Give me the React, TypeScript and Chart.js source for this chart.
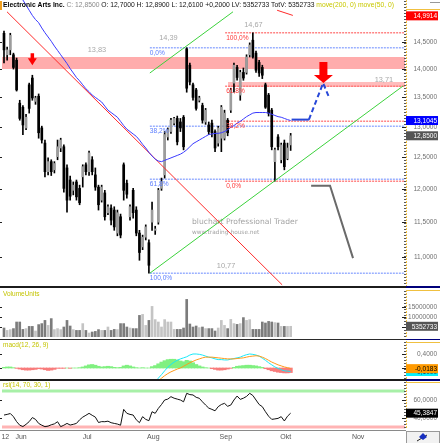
import { useEffect, useRef } from 'react';
import { Chart, registerables } from 'chart.js';

Chart.register(...registerables);

const FONT = '"Liberation Sans", Arial, sans-serif';
const X_MIN = -0.635;
const X_MAX = 127.3;

// ---- daily candles, index 0 = first visible trading day ----
const openP = [14.66,14.26,14.35,14.26,14.16,13.40,13.33,12.98,13.72,13.84, 13.43,13.52,12.98,12.73,12.27,12.43,12.30,12.51,12.65,12.67, 12.33,12.14,11.98,12.11,12.01,12.19,12.38,12.27,12.46,12.22, 12.03,11.83,11.94,11.64,11.71,11.68,11.34,11.58,12.38,12.09, 11.58,11.98,11.68,11.34,11.14,11.28,11.20,11.50,11.38,11.50, 12.01,12.22,12.83,12.92,13.06,13.14,13.08,13.16,14.37,14.07, 13.72,13.63,13.45,13.36,13.08,13.03,13.06,12.92,12.73,12.81, 12.81,13.11,13.28,13.75,14.03,13.54,13.94,13.94,14.26,14.53, 14.29,14.12,14.03,13.72,13.54,13.28,12.43,12.83,12.46,12.73, 12.48,12.70];
const highP = [14.70,14.40,14.66,14.29,14.20,13.45,13.36,13.21,13.75,13.89, 13.52,13.56,13.01,12.78,12.49,12.46,12.43,12.78,12.81,12.70, 12.38,12.20,12.11,12.14,12.06,12.38,12.41,12.60,12.51,12.33, 12.06,12.06,11.98,11.76,11.76,11.73,11.68,11.62,12.41,12.14, 11.76,12.01,11.73,11.38,11.31,11.46,11.24,11.80,11.44,12.01, 12.17,12.92,12.98,13.14,13.16,13.18,13.14,13.19,14.39,14.11, 13.75,13.66,13.52,13.40,13.31,13.08,13.11,12.95,13.01,13.36, 13.28,13.14,13.66,14.11,14.07,13.98,14.02,14.26,14.48,14.67, 14.33,14.16,14.07,13.75,13.57,13.31,12.65,12.87,12.73,12.78, 12.73,12.89];
const lowP = [14.11,14.16,14.26,14.00,13.61,13.11,12.87,12.95,13.23,13.45, 13.38,12.81,12.73,12.19,12.22,12.21,12.25,12.46,12.59,11.95, 11.65,11.83,11.91,11.83,11.76,12.03,12.22,12.21,12.22,11.98, 11.68,11.80,11.53,11.61,11.46,11.38,11.30,11.27,11.83,11.86, 11.53,11.56,11.30,10.95,11.10,11.24,10.77,11.38,11.32,11.47, 11.98,12.17,12.78,12.89,13.03,12.70,12.92,12.62,13.59,13.72, 13.45,13.28,13.42,13.06,13.04,12.87,12.83,12.59,12.68,12.59, 12.78,12.85,13.24,13.59,13.80,13.45,13.80,13.91,14.22,14.20, 13.94,13.87,13.83,13.31,13.18,12.62,12.12,12.62,12.41,12.30, 12.46,12.61];
const closeP = [14.35,14.35,14.62,14.03,13.63,13.14,13.03,13.16,13.31,13.49, 13.49,12.90,12.78,12.27,12.43,12.27,12.40,12.67,12.78,12.01, 11.83,11.89,12.06,11.88,11.79,12.35,12.27,12.57,12.27,12.03, 11.76,12.03,11.58,11.73,11.53,11.43,11.64,11.31,11.98,11.92, 11.73,11.64,11.34,11.06,11.28,11.43,10.88,11.68,11.40,11.98, 12.11,12.87,12.95,13.11,13.14,12.75,12.98,12.67,13.66,13.77, 13.50,13.31,13.49,13.11,13.28,12.92,12.90,12.65,12.98,13.33, 13.23,12.90,13.63,14.07,13.85,13.94,13.84,14.22,14.44,14.22, 13.98,13.93,13.89,13.33,13.23,12.67,12.62,12.67,12.70,12.35, 12.65,12.85];
const volume = [4500000,3300000,3700000,4200000,7500000,7500000,3800000,4200000,5300000,5300000, 3000000,6200000,6700000,8300000,5800000,9200000,3700000,4200000,3700000,5000000, 8300000,5500000,3700000,3300000,3300000,6700000,3300000,2000000,2500000,2800000, 3700000,3300000,3300000,5000000,3300000,3800000,3700000,6700000,6700000,5000000, 4500000,4200000,4200000,10800000,11300000,5800000,8300000,15300000,8700000,7500000, 5000000,8700000,7500000,7500000,3800000,3800000,3800000,4500000,18800000,6500000, 5000000,5500000,4700000,5000000,4200000,4200000,4200000,3000000,4500000,8300000, 5800000,4200000,8800000,6700000,6300000,6700000,9700000,8300000,8700000,3800000, 3800000,3800000,7500000,7000000,7800000,7500000,7200000,7000000,5300000,5300000, 5300000,5352733];
const ma50 = [null,null,null,null,null,null,15.30,15.20,15.10,15.00, 14.92,14.86,14.76,14.67,14.59,14.51,14.42,14.34,14.26,14.18, 14.10,14.01,13.93,13.85,13.79,13.72,13.65,13.60,13.54,13.50, 13.46,13.42,13.35,13.28,13.24,13.20,13.16,13.09,13.02,12.96, 12.92,12.88,12.84,12.78,12.71,12.65,12.58,12.52,12.47,12.44, 12.43,12.45,12.47,12.49,12.51,12.53,12.55,12.58,12.62,12.67, 12.72,12.75,12.78,12.81,12.84,12.87,12.88,12.89,12.89,12.90, 12.92,12.95,12.99,13.02,13.06,13.09,13.13,13.17,13.20,13.23, 13.24,13.24,13.24,13.24,13.23,13.21,13.19,13.17,13.16,13.14, 13.12,13.1045];
const ma200Last = 14.9914;
const macdHist = [0.02,0.03,0.03,0.01, -0.01,-0.03,-0.05,-0.06,-0.06,-0.05,-0.04,-0.02, -0.03,-0.05,-0.07,-0.06,-0.04,-0.01, -0.01,-0.01,0,-0.01, 0,0,0.01, 0.03,0.06,0.09,0.10,0.08,0.05, 0.03,0.04,0.05,0.04,0.02, 0.01,0.02, 0.06,0.08,0.06,0.03, 0.01,0,0.01,0,0, 0.04,0.07,0.12,0.17,0.21,0.24,0.25,0.25,0.23,0.20,0.18,0.22,0.20,0.15,0.10,0.06, 0.03,0.01,0, -0.02,-0.04,-0.06,-0.06,-0.05,-0.03,-0.01, 0.02,0.05,0.06,0.07,0.08,0.08,0.07,0.06,0.04,0.02, -0.02,-0.05,-0.08,-0.10,-0.12,-0.13,-0.14,-0.14,-0.13];
const MACD_START = 47;
const macdLine = [-0.50,-0.40,-0.29,-0.19,-0.08,0.02,0.10,0.17,0.22,0.26, 0.29,0.32,0.37,0.40,0.40,0.39,0.37,0.34,0.31,0.29, 0.26,0.24,0.24,0.23,0.23,0.25,0.27,0.29,0.31,0.35, 0.38,0.40,0.39,0.37,0.34,0.28,0.22,0.15,0.09,0.03, -0.01,-0.05,-0.08,-0.09,-0.10];
const macdSignal = [-0.55,-0.45,-0.37,-0.29,-0.22,-0.16,-0.11,-0.07,-0.03,0.00, 0.05,0.10,0.15,0.19,0.23,0.26,0.29,0.31,0.31,0.31, 0.30,0.29,0.28,0.27,0.26,0.26,0.26,0.27,0.28,0.29, 0.31,0.33,0.34,0.35,0.34,0.31,0.27,0.22,0.17,0.13, 0.09,0.06,0.03,0.01,-0.0183];
const rsi = [43.3,44,45,41.5,36,32,30.5,33,36,40.5, 38.5,34,32,30.4,31,32.5,33.5,35.9,30.4,32, 34,32.2,33,34,38,41,43,45.2,43,41, 35,36,35.9,36.5,34.8,34,33.3,32,49.6,45.2, 44,43.3,38,34.8,41.5,38.5,37,47,45.2,50.7, 55,60,61,63.7,62,61,60,58,67.4,66, 65.6,63,61.9,58,54.4,51,49.6,48,52.6,55, 56.3,53,54.4,60,64.4,60.7,62,64,67.4,65, 60,55,52.6,47,42,38.5,39,39.6,41.5,36.7, 42,45.3847];

// ---- drawings on the price panel (index, price) ----
const bandHigh = [14.22, 14.00];
const bandSmall = { from: 71.1, top: 13.77, bottom: 13.68 };
const fibBlueStart = 46.3;
const fibBlueLevels = [14.39, 13.007, 12.153, 10.77];
const fibBlueNames = ['0,0%', '38,2%', '61,8%', '100,0%'];
const fibRedStart = 70.2;
const fibRedLevels = [14.67, 13.696, 13.094, 12.12];
const fibRedNames = ['100,0%', '61,8%', '38,2%', '0,0%'];
const trendRedX = [0.95, 88.3];
const trendRedY = [15.07, 10.61];
const trendRed2X = [86.7, 91.7];
const trendRed2Y = [15.10, 15.0];
const channelUpX = [46.3, 72.7];
const channelUpY = [13.93, 15.07];
const channelLowX = [46.3, 126.7];
const channelLowY = [10.77, 13.70];
const projBlueX = [91.3, 96.8];
const projBlueY = [13.12, 13.12];
const projBlueDashX = [96.8, 101.3, 103.2];
const projBlueDashY = [13.12, 13.75, 13.50];
const projGrayX = [97.5, 103.5, 110.8];
const projGrayY = [12.05, 12.05, 10.98];
const arrowX = [9, 101.4];
const arrowY = [14.07, 13.75];
const priceNotes = [
  { x: 29.5, y: 14.34, t: '13,83' },
  { x: 52.2, y: 14.57, t: '14,39' },
  { x: 79.2, y: 14.81, t: '14,67' },
  { x: 120.6, y: 13.80, t: '13,71' },
  { x: 70.5, y: 10.87, t: '10,77' },
];
const priceTicks = [11, 11.5, 12, 12.5, 13, 13.5, 14, 14.5];
const volTicks = [5000000, 10000000, 15000000];
const macdTicks = [0, 0.4];
const rsiTicks = [40, 60];
const rsiLevels = [70, 30];
const monthStarts = [0, 5, 26, 47, 70, 89, 112];
const monthNames = ['12', 'Jun', 'Jul', 'Aug', 'Sep', 'Okt', 'Nov'];
const stockName = 'Electronic Arts Inc.';

const N = closeP.length;
const idx = Array.from({ length: N }, (_, i) => i);
const up = (i: number) => closeP[i] >= openP[i];
const fmt4 = (v: number) => v.toFixed(4).replace('.', ',');
const fmtInt = (v: number) => String(Math.round(v));

const seg = (xs: number[], ys: number[], color: string, width = 1, dash: number[] = [], order = 10) => ({
  type: 'line',
  data: xs.map((x, k) => ({ x, y: ys[k] })),
  borderColor: color,
  borderWidth: width,
  borderDash: dash,
  pointRadius: 0,
  fill: false,
  tension: 0,
  order,
});

const baseOptions = (y: any, padding: any) => ({
  animation: false,
  responsive: false,
  maintainAspectRatio: false,
  events: [],
  layout: { padding },
  plugins: { legend: { display: false }, tooltip: { enabled: false } },
  scales: {
    x: { type: 'linear', min: X_MIN, max: X_MAX, display: false, offset: false, bounds: 'data' },
    y: { display: false, bounds: 'data', ...y },
  },
});

type Badge = { v: number; text: string; bg: string; fg: string };

const axisPlugin = (ticks: number[], fmt: (v: number) => string, badges: Badge[], label: string) => ({
  id: 'axisDecor',
  afterDraw(chart: any) {
    const { ctx, chartArea: a, scales } = chart;
    const ys = scales.y;
    const W = chart.width;
    ctx.save();
    ctx.fillStyle = '#555';
    for (let yy = Math.ceil(a.top) + 1; yy < a.bottom; yy += 3) ctx.fillRect(a.right - 1, yy, 2, 1);
    ctx.strokeStyle = '#f0c040';
    ctx.lineWidth = 1;
    ctx.setLineDash([2, 1]);
    ctx.beginPath();
    ctx.moveTo(a.right + 1.5, a.top);
    ctx.lineTo(a.right + 1.5, a.bottom);
    ctx.stroke();
    ctx.setLineDash([]);
    ctx.font = `6.5px ${FONT}`;
    ctx.textAlign = 'right';
    ctx.textBaseline = 'middle';
    ticks.forEach((v) => {
      const py = Math.round(ys.getPixelForValue(v));
      ctx.fillStyle = '#222';
      ctx.fillRect(a.right - 3, py, 4, 1);
      ctx.fillRect(0, py, 2, 1);
      ctx.fillStyle = '#707070';
      ctx.fillText(fmt(v), W - 3, py + 0.5);
    });
    badges.forEach((b) => {
      const py = ys.getPixelForValue(b.v);
      ctx.fillStyle = b.bg;
      ctx.fillRect(a.right + 1, py - 4.5, 32, 9);
      ctx.fillStyle = b.fg;
      ctx.fillText(b.text, W - 3, py + 0.5);
    });
    if (label) {
      ctx.textAlign = 'left';
      ctx.fillStyle = '#c4c400';
      ctx.font = `6.5px ${FONT}`;
      ctx.fillText(label, 3, a.top + 4);
    }
    ctx.restore();
  },
});

function drawArrow(ctx: any, px: number, py: number, hw: number, hh: number, sw: number, sh: number) {
  ctx.beginPath();
  ctx.moveTo(px, py);
  ctx.lineTo(px - hw / 2, py - hh);
  ctx.lineTo(px - sw / 2, py - hh);
  ctx.lineTo(px - sw / 2, py - hh - sh);
  ctx.lineTo(px + sw / 2, py - hh - sh);
  ctx.lineTo(px + sw / 2, py - hh);
  ctx.lineTo(px + hw / 2, py - hh);
  ctx.closePath();
  ctx.fill();
}

const mainText = {
  id: 'mainText',
  beforeDatasetsDraw(chart: any) {
    const { ctx } = chart;
    ctx.save();
    ctx.fillStyle = '#a4a4a4';
    ctx.textBaseline = 'middle';
    ctx.textAlign = 'left';
    ctx.font = '7.6px "DejaVu Sans", sans-serif';
    ctx.fillText('bluchart Professional Trader', 192, 222);
    ctx.font = '5.8px "DejaVu Sans", sans-serif';
    ctx.fillText('www.trading-house.net', 192, 232);
    ctx.restore();
  },
  afterDatasetsDraw(chart: any) {
    const { ctx, scales } = chart;
    const xs = scales.x;
    const ys = scales.y;
    ctx.save();
    ctx.textBaseline = 'middle';
    ctx.font = `7.4px ${FONT}`;
    ctx.textAlign = 'center';
    ctx.fillStyle = '#a8a8a8';
    priceNotes.forEach((n) => ctx.fillText(n.t, xs.getPixelForValue(n.x), ys.getPixelForValue(n.y)));
    ctx.textAlign = 'left';
    ctx.font = `6.6px ${FONT}`;
    ctx.fillStyle = '#5a7cff';
    fibBlueLevels.forEach((v, k) => ctx.fillText(fibBlueNames[k], xs.getPixelForValue(fibBlueStart), ys.getPixelForValue(v) + 5));
    ctx.fillStyle = '#ff3838';
    fibRedLevels.forEach((v, k) => ctx.fillText(fibRedNames[k], xs.getPixelForValue(fibRedStart) + 1, ys.getPixelForValue(v) + 5));
    ctx.fillStyle = '#ff0000';
    drawArrow(ctx, xs.getPixelForValue(arrowX[0]), ys.getPixelForValue(arrowY[0]), 9, 7, 3.5, 5);
    drawArrow(ctx, xs.getPixelForValue(arrowX[1]), ys.getPixelForValue(arrowY[1]), 19, 8, 8, 13);
    // title line
    const o = openP[N - 1], h = highP[N - 1], l = lowP[N - 1], c = closeP[N - 1];
    const ch = c - closeP[N - 2];
    const parts: [string, string, string][] = [
      [stockName, '#000', 'bold'],
      [` C: ${fmt4(c)}`, '#8a8a8a', 'normal'],
      [` O: ${fmt4(o)} H: ${fmt4(h)} L: ${fmt4(l)} ${ch >= 0 ? '+' : ''}${fmt4(ch)} LV: ${volume[N - 1]} TotV: ${volume[N - 1]}`, '#111', 'normal'],
      [' move(200, 0) move(50, 0)', '#c8c800', 'normal'],
    ];
    let tx = 3;
    parts.forEach(([t, col, w]) => {
      ctx.font = `${w} 6.75px ${FONT}`;
      ctx.fillStyle = col;
      ctx.fillText(t, tx, 5.5);
      tx += ctx.measureText(t).width;
    });
    ctx.fillStyle = '#f0a020';
    ctx.fillRect(0, 1, 2, 9);
    ctx.fillStyle = '#999';
    ctx.fillRect(430, 2, 10, 1);
    ctx.restore();
  },
};

const makeMain = (cv: HTMLCanvasElement) =>
  new Chart(cv, {
    type: 'bar',
    data: {
      datasets: [
        { ...seg([X_MIN, X_MAX], [bandHigh[0], bandHigh[0]], 'rgba(0,0,0,0)', 0, [], 100), fill: { value: bandHigh[1] }, backgroundColor: '#ffacac' },
        { ...seg([bandSmall.from, X_MAX], [bandSmall.top, bandSmall.top], 'rgba(0,0,0,0)', 0, [], 99), fill: { value: bandSmall.bottom }, backgroundColor: '#ffbcbc' },
        ...fibBlueLevels.map((v) => seg([fibBlueStart, X_MAX], [v, v], 'rgba(120,150,255,0.75)', 1.5, [2, 1], 90)),
        ...fibRedLevels.map((v) => seg([fibRedStart, X_MAX], [v, v], 'rgba(255,110,110,0.85)', 1.5, [2, 1], 89)),
        {
          type: 'bar',
          data: idx.map((i) => ({ x: i, y: [lowP[i], highP[i]] })),
          backgroundColor: '#000',
          barThickness: 1,
          grouped: false,
          order: 50,
        },
        {
          type: 'bar',
          data: idx.map((i) => ({ x: i, y: [Math.min(openP[i], closeP[i]), Math.max(openP[i], closeP[i])] })),
          backgroundColor: idx.map((i) => (up(i) ? '#9c9c9c' : '#000')),
          barThickness: 2,
          grouped: false,
          order: 49,
        },
        seg(trendRedX, trendRedY, '#ff2a2a', 1, [], 12),
        seg(trendRed2X, trendRed2Y, '#ff2a2a', 1, [], 12),
        seg(channelUpX, channelUpY, '#3cd23c', 1, [], 12),
        seg(channelLowX, channelLowY, '#3cd23c', 1, [], 12),
        { ...seg(idx, ma50 as number[], '#3a3aff', 1, [], 11) },
        seg(projBlueX, projBlueY, '#2848d8', 2, [], 5),
        seg(projBlueDashX, projBlueDashY, '#2848d8', 2, [5, 3], 5),
        seg(projGrayX, projGrayY, '#6a6a6a', 2, [], 5),
      ] as any,
    },
    options: baseOptions({ type: 'logarithmic', min: 10.594, max: 15.3 }, { left: 2, right: 35, top: 0, bottom: 1 }) as any,
    plugins: [
      mainText,
      axisPlugin(priceTicks, fmt4, [
        { v: ma200Last, text: fmt4(ma200Last), bg: '#ff0000', fg: '#fff' },
        { v: ma50[N - 1] as number, text: fmt4(ma50[N - 1] as number), bg: '#0000ff', fg: '#fff' },
        { v: closeP[N - 1], text: fmt4(closeP[N - 1]), bg: '#555', fg: '#fff' },
      ], ''),
    ],
  });

const makeVolume = (cv: HTMLCanvasElement) =>
  new Chart(cv, {
    type: 'bar',
    data: {
      datasets: [
        {
          type: 'bar',
          data: idx.map((i) => ({ x: i, y: volume[i] })),
          backgroundColor: idx.map((i) => (up(i) ? '#c4c4c4' : '#7c7c7c')),
          barThickness: 2,
          grouped: false,
        },
      ] as any,
    },
    options: baseOptions({ type: 'linear', min: 0, max: 23500000 }, { left: 2, right: 35, top: 3, bottom: 2 }) as any,
    plugins: [axisPlugin(volTicks, fmtInt, [{ v: volume[N - 1], text: fmtInt(volume[N - 1]), bg: '#555', fg: '#fff' }], 'VolumeUnits')],
  });

const makeMacd = (cv: HTMLCanvasElement) =>
  new Chart(cv, {
    type: 'bar',
    data: {
      datasets: [
        {
          type: 'bar',
          data: idx.map((i) => ({ x: i, y: macdHist[i] })),
          backgroundColor: idx.map((i) => (macdHist[i] >= 0 ? '#80f080' : '#f87c7c')),
          barThickness: 3.4,
          grouped: false,
          order: 20,
        },
        seg(macdLine.map((_, k) => k + MACD_START), macdLine, '#18e8f8', 1, [], 2),
        seg(macdSignal.map((_, k) => k + MACD_START), macdSignal, '#ff9a1a', 1, [], 1),
      ] as any,
    },
    options: baseOptions({ type: 'linear', min: -0.314, max: 0.771 }, { left: 2, right: 35, top: 2, bottom: 1 }) as any,
    plugins: [
      axisPlugin(macdTicks, fmt4, [
        { v: macdLine[macdLine.length - 1], text: fmt4(macdLine[macdLine.length - 1]), bg: '#00f0ff', fg: '#0a2060' },
        { v: macdSignal[macdSignal.length - 1], text: fmt4(macdSignal[macdSignal.length - 1]), bg: '#ff9a00', fg: '#000' },
      ], 'macd(12, 26, 9)'),
    ],
  });

const xLabels = {
  id: 'xLabels',
  afterDraw(chart: any) {
    const { ctx, chartArea: a, scales } = chart;
    ctx.save();
    ctx.font = `7px ${FONT}`;
    ctx.fillStyle = '#555';
    ctx.textAlign = 'center';
    ctx.textBaseline = 'middle';
    monthStarts.forEach((m, k) => ctx.fillText(monthNames[k], scales.x.getPixelForValue(m) + 1.3, a.bottom + 8));
    // corner button
    ctx.fillStyle = '#f2f2f2';
    ctx.fillRect(a.right + 1, a.bottom + 2, 33, 12);
    ctx.strokeStyle = '#999';
    ctx.strokeRect(a.right + 1.5, a.bottom + 2.5, 33, 12);
    ctx.strokeStyle = '#222';
    ctx.beginPath();
    ctx.moveTo(a.right + 12, a.bottom + 12);
    ctx.lineTo(a.right + 22, a.bottom + 6);
    ctx.stroke();
    ctx.fillStyle = '#1830c0';
    ctx.beginPath();
    ctx.moveTo(a.right + 18, a.bottom + 4);
    ctx.lineTo(a.right + 22, a.bottom + 8);
    ctx.lineTo(a.right + 18, a.bottom + 11);
    ctx.lineTo(a.right + 14, a.bottom + 8);
    ctx.closePath();
    ctx.fill();
    ctx.restore();
  },
};

const makeRsi = (cv: HTMLCanvasElement) =>
  new Chart(cv, {
    type: 'line',
    data: {
      datasets: [
        seg([X_MIN, X_MAX], [rsiLevels[0], rsiLevels[0]], '#a8f0a8', 3, [], 20),
        seg([X_MIN, X_MAX], [rsiLevels[1], rsiLevels[1]], '#ffb4b4', 3, [], 20),
        seg(idx, rsi, '#111', 1, [], 1),
      ] as any,
    },
    options: baseOptions({ type: 'linear', min: 27.8, max: 81.1 }, { left: 2, right: 35, top: 1, bottom: 14 }) as any,
    plugins: [axisPlugin(rsiTicks, fmt4, [{ v: rsi[N - 1], text: fmt4(rsi[N - 1]), bg: '#000', fg: '#fff' }], 'rsi(14, 70, 30, 1)'), xLabels],
  });

function Panel({ top, height, make }: { top: number; height: number; make: (c: HTMLCanvasElement) => Chart }) {
  const ref = useRef<HTMLCanvasElement | null>(null);
  useEffect(() => {
    const chart = make(ref.current as HTMLCanvasElement);
    return () => chart.destroy();
  }, [make]);
  return <canvas ref={ref} width={440} height={height} style={{ position: 'absolute', left: 0, top, width: 440, height, display: 'block' }} />;
}

const lines: { top: number; left: number; width: number; height: number; bg: string }[] = [
  { top: 286, left: 0, width: 406, height: 2, bg: '#1c1c1c' },
  { top: 286, left: 406, width: 34, height: 2, bg: '#00007a' },
  { top: 339, left: 0, width: 406, height: 1, bg: '#2a2a2a' },
  { top: 339, left: 406, width: 34, height: 1, bg: '#00007a' },
  { top: 379, left: 0, width: 406, height: 2, bg: '#1c1c1c' },
  { top: 379, left: 406, width: 34, height: 2, bg: '#00007a' },
  { top: 430, left: 0, width: 406, height: 1, bg: '#8a8a8a' },
  { top: 9, left: 406, width: 34, height: 1, bg: '#f0c040' },
  { top: 290, left: 406, width: 34, height: 1, bg: '#f0c040' },
  { top: 342, left: 406, width: 34, height: 1, bg: '#f0c040' },
  { top: 382, left: 406, width: 34, height: 1, bg: '#f0c040' },
];

export default function App() {
  return (
    <div style={{ position: 'fixed', left: 0, top: 0, width: 440, height: 443, background: '#fff', overflow: 'hidden' }}>
      <Panel top={0} height={287} make={makeMain} />
      <Panel top={287} height={52} make={makeVolume} />
      <Panel top={339} height={41} make={makeMacd} />
      <Panel top={380} height={63} make={makeRsi} />
      {lines.map((l, k) => (
        <div key={k} style={{ position: 'absolute', top: l.top, left: l.left, width: l.width, height: l.height, background: l.bg, zIndex: 2 }} />
      ))}
    </div>
  );
}
